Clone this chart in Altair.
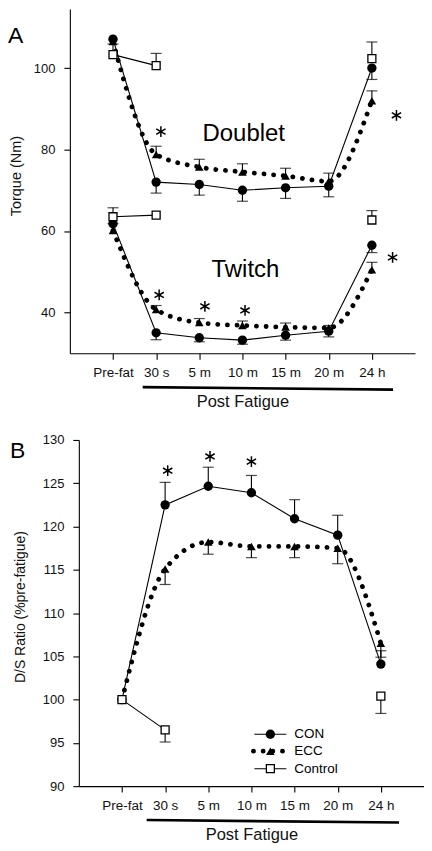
import altair as alt
import pandas as pd

categories = ["Pre-fat", "30 s", "5 m", "10 m", "15 m", "20 m", "24 h"]
series_names = ["CON", "ECC", "Control"]

# Panel A - Doublet torque (Nm)
doublet_con = [107.1, 72.0, 71.4, 70.0, 70.6, 71.0, 100.0]
doublet_con_err = [0.0, 2.7, 2.6, 2.7, 2.6, 2.6, 2.8]
doublet_ecc = [106.5, 78.8, 75.7, 74.5, 73.5, 72.2, 92.0]
doublet_ecc_err = [0.0, 2.0, 1.9, 2.0, 1.9, 2.0, 2.4]
doublet_ctrl = [103.3, 100.6, None, None, None, None, 102.3]
doublet_ctrl_err = [2.6, 3.0, None, None, None, None, 4.1]

# Panel A - Twitch torque (Nm)
twitch_con = [61.8, 35.0, 33.8, 33.2, 34.4, 35.4, 56.5]
twitch_con_err = [0.0, 1.7, 1.0, 1.0, 1.2, 1.4, 1.8]
twitch_ecc = [60.1, 40.7, 37.5, 36.8, 36.4, 36.2, 50.5]
twitch_ecc_err = [1.7, 1.0, 1.0, 1.1, 1.0, 0.6, 1.8]
twitch_ctrl = [63.5, 63.9, None, None, None, None, 62.7]
twitch_ctrl_err = [2.2, 0.0, None, None, None, None, 2.3]

# Panel B - D/S ratio (% pre-fatigue)
ratio_con = [100.0, 122.5, 124.65, 123.9, 120.9, 119.0, 104.1]
ratio_con_err = [0.0, 2.6, 2.2, 2.0, 2.2, 2.3, 1.55]
ratio_ecc = [100.0, 115.1, 118.2, 117.7, 117.7, 117.5, 106.5]
ratio_ecc_err = [0.0, 1.8, 1.4, 1.3, 1.3, 1.8, 1.6]
ratio_ctrl = [100.0, 96.5, None, None, None, None, 100.4]
ratio_ctrl_err = [0.0, 1.4, None, None, None, None, 2.0]

# significance asterisks (x position on category index scale, y value)
star_a_x = [2.11, 7.57, 2.07, 3.13, 4.06, 7.48]
star_a_y = [84.4, 88.4, 44.3, 41.5, 40.5, 53.5]
star_b_x = [2.06, 3.04, 4.0]
star_b_y = [126.45, 128.1, 127.5]

# annotations
annot_text = ["Doublet", "Twitch"]
annot_x = [4.03, 4.07]
annot_y = [83.9, 50.4]

FONT = "Liberation Sans"
STAR = "M0,-1L0,1M-0.87,-0.5L0.87,0.5M-0.87,0.5L0.87,-0.5"
label_expr = "[" + ",".join("'" + c + "'" for c in [""] + categories + [""]) + "][datum.value]"


def build_rows(curve, triples):
    rows = []
    for series, vals, errs, sign in triples:
        for i, (v, e) in enumerate(zip(vals, errs)):
            if v is None:
                continue
            e = e or 0.0
            seg = curve
            if series == "Control":
                seg = curve + ("a" if i <= 1 else "b")
            rows.append(dict(curve=curve, series=series, idx=i + 1, value=v,
                             err=e, end=v + sign * e, seg=seg))
    return rows


def make_panel(df, ydomain, yvalues, ytitle, title_x, title_y, title_size, width, height,
               stars, letter, letter_x, letter_y, shift=0, bracket_x=(73, 324),
               annots=None, legend=False):
    xaxis = alt.Axis(values=list(range(1, 8)), labelExpr=label_expr, grid=False,
                     title="Post Fatigue", titleFontSize=16.5, titlePadding=15,
                     titleX=shift + 173, titleAnchor="middle",
                     tickSize=6, labelPadding=6, labelFontSize=13.5)
    yaxis = alt.Axis(values=yvalues, grid=False, title=ytitle, titleFontSize=title_size,
                     titleX=title_x, titleY=title_y, titleAngle=270,
                     titleAlign="center", titleBaseline="middle", offset=-shift,
                     tickSize=6, labelPadding=9, labelFontSize=13)
    X = alt.X("idx:Q", scale=alt.Scale(domain=[0, 8], nice=False,
                                       range=[shift, shift + 346]), axis=xaxis)

    def Y(field):
        return alt.Y(field + ":Q", scale=alt.Scale(domain=ydomain, nice=False, zero=False),
                     axis=yaxis)

    base = alt.Chart(df)
    con_line = base.transform_filter("datum.series == 'CON'").mark_line(
        color="black", strokeWidth=1.1).encode(x=X, y=Y("value"), detail="seg:N")
    ecc_line = base.transform_filter("datum.series == 'ECC'").mark_line(
        color="black", strokeWidth=4.8, strokeDash=[0.1, 9.6], strokeCap="round",
        interpolate="monotone").encode(x=X, y=Y("value"), detail="seg:N")
    ctrl_line = base.transform_filter("datum.series == 'Control'").mark_line(
        color="black", strokeWidth=1.1).encode(x=X, y=Y("value"), detail="seg:N")
    err_rule = base.transform_filter("datum.err > 0").mark_rule(
        color="black", strokeWidth=1.1).encode(x=X, y=Y("value"), y2="end:Q")
    err_cap = base.transform_filter("datum.err > 0").mark_tick(
        color="black", orient="horizontal", size=11, thickness=1.2).encode(x=X, y=Y("end"))
    ecc_pts = base.transform_filter("datum.series == 'ECC'").mark_point(
        shape="triangle-up", filled=True, color="black", size=75, opacity=1).encode(x=X, y=Y("value"))
    con_pts = base.transform_filter("datum.series == 'CON'").mark_point(
        shape="circle", filled=True, color="black", size=88, opacity=1).encode(x=X, y=Y("value"))
    ctrl_pts = base.transform_filter("datum.series == 'Control'").mark_point(
        shape="square", filled=True, fill="white", stroke="black", strokeWidth=1.3,
        size=64, opacity=1).encode(x=X, y=Y("value"))

    star_df = pd.DataFrame({"idx": stars[0], "value": stars[1]})
    star_layer = alt.Chart(star_df).mark_point(
        shape=STAR, filled=False, stroke="black", strokeWidth=1.5, size=115, opacity=1
    ).encode(x=X, y=Y("value"))

    letter_layer = alt.Chart(pd.DataFrame({"t": [letter]})).mark_text(
        font=FONT, fontSize=23, align="left", baseline="middle", color="black"
    ).encode(text="t:N", x=alt.value(letter_x), y=alt.value(letter_y))

    bracket = alt.Chart(pd.DataFrame({"t": [0]})).mark_rule(
        color="black", strokeWidth=2.6
    ).encode(x=alt.value(bracket_x[0]), x2=alt.value(bracket_x[1]),
             y=alt.value(height + 34), y2=alt.value(height + 36.5))

    layers = [con_line, ecc_line, ctrl_line, err_rule, err_cap, ecc_pts, con_pts,
              ctrl_pts, star_layer, letter_layer, bracket]

    if annots is not None:
        ann_df = pd.DataFrame({"idx": annots[1], "value": annots[2], "label": annots[0]})
        layers.append(alt.Chart(ann_df).mark_text(
            font=FONT, fontSize=24, align="center", baseline="middle", color="black"
        ).encode(x=X, y=Y("value"), text="label:N"))

    if legend:
        lx1, lx2, lxc, ltx = shift + 176, shift + 208, shift + 192, shift + 216
        rows_y = [295, 312, 329.5]
        one = pd.DataFrame({"t": [0]})
        # CON
        layers.append(alt.Chart(one).mark_rule(color="black", strokeWidth=1.1).encode(
            x=alt.value(lx1), x2=alt.value(lx2), y=alt.value(rows_y[0])))
        layers.append(alt.Chart(one).mark_point(shape="circle", filled=True, color="black",
                                                size=88, opacity=1).encode(
            x=alt.value(lxc), y=alt.value(rows_y[0])))
        # ECC
        layers.append(alt.Chart(one).mark_rule(color="black", strokeWidth=4.8,
                                               strokeDash=[0.1, 9.6], strokeCap="round").encode(
            x=alt.value(lx1 - 1), x2=alt.value(lx2 + 3), y=alt.value(rows_y[1])))
        layers.append(alt.Chart(one).mark_point(shape="triangle-up", filled=True, color="black",
                                                size=75, opacity=1).encode(
            x=alt.value(lxc), y=alt.value(rows_y[1])))
        # Control
        layers.append(alt.Chart(one).mark_rule(color="black", strokeWidth=1.1).encode(
            x=alt.value(lx1), x2=alt.value(lx2), y=alt.value(rows_y[2])))
        layers.append(alt.Chart(one).mark_point(shape="square", filled=True, fill="white",
                                                stroke="black", strokeWidth=1.3, size=64,
                                                opacity=1).encode(
            x=alt.value(lxc), y=alt.value(rows_y[2])))
        leg_df = pd.DataFrame({"label": series_names, "ly": rows_y})
        layers.append(alt.Chart(leg_df).mark_text(
            font=FONT, fontSize=13.5, align="left", baseline="middle", color="black"
        ).encode(text="label:N", x=alt.value(ltx), y=alt.Y("ly:Q", scale=None)))

    return alt.layer(*layers).properties(width=width + shift, height=height)


df_a = pd.DataFrame(
    build_rows("doublet", [("CON", doublet_con, doublet_con_err, -1),
                           ("ECC", doublet_ecc, doublet_ecc_err, 1),
                           ("Control", doublet_ctrl, doublet_ctrl_err, 1)])
    + build_rows("twitch", [("CON", twitch_con, twitch_con_err, -1),
                            ("ECC", twitch_ecc, twitch_ecc_err, 1),
                            ("Control", twitch_ctrl, twitch_ctrl_err, 1)])
)
df_b = pd.DataFrame(
    build_rows("ratio", [("CON", ratio_con, ratio_con_err, 1),
                         ("ECC", ratio_ecc, ratio_ecc_err, -1),
                         ("Control", ratio_ctrl, ratio_ctrl_err, -1)])
)

panel_a = make_panel(df_a, [30, 114.5], [40, 60, 80, 100], "Torque (Nm)", -53, 167, 14.5,
                     346, 345, (star_a_x, star_a_y), "A", -62, 27,
                     shift=0, bracket_x=(73, 324),
                     annots=(annot_text, annot_x, annot_y))
panel_b = make_panel(df_b, [90, 130], [90, 95, 100, 105, 110, 115, 120, 125, 130],
                     "D/S Ratio (%pre-fatigue)", -58, 167, 14, 346, 347,
                     (star_b_x, star_b_y), "B", -60, 11,
                     shift=9, bracket_x=(77, 330), legend=True)

chart = alt.vconcat(panel_a, panel_b, spacing=24).properties(padding=0).configure_view(
    stroke=None
).configure_axis(
    labelFont=FONT, titleFont=FONT, titleFontWeight="normal", labelColor="#111",
    titleColor="#111", domainColor="black", tickColor="black", domainWidth=1.1, tickWidth=1.1
)

chart.save("out.html", embed_options={"renderer": "svg", "actions": False})
